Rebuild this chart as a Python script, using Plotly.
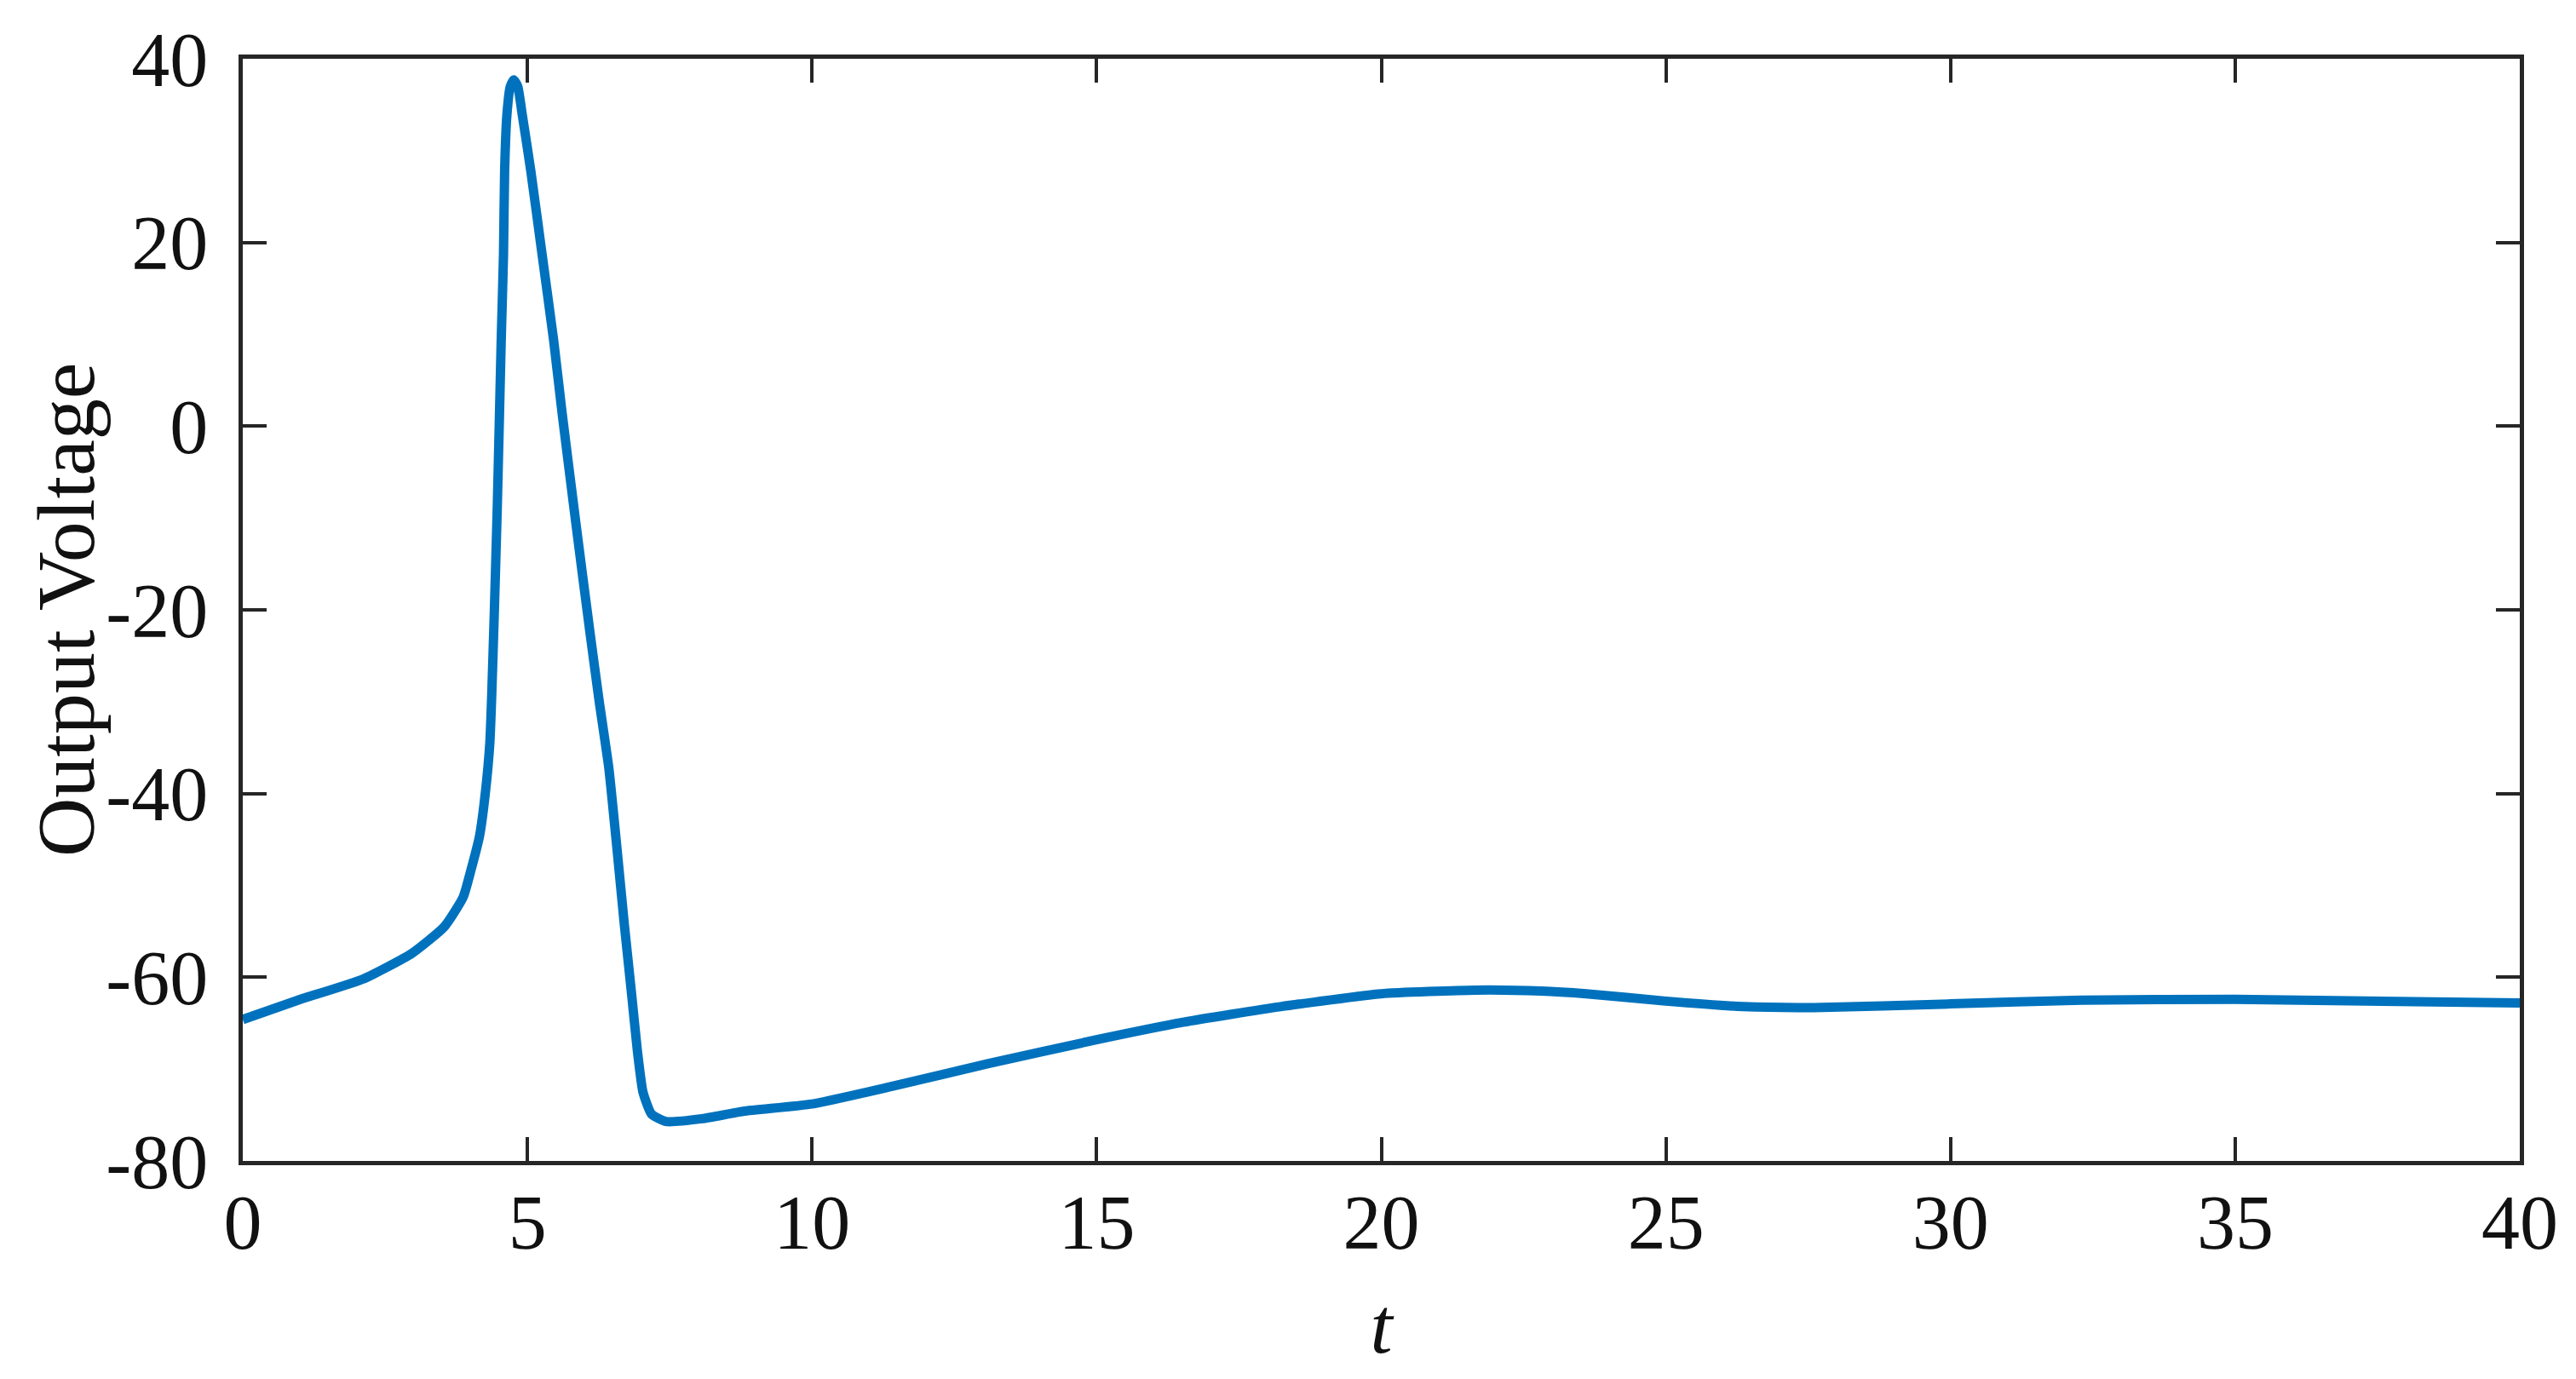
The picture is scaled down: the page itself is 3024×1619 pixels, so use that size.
import plotly.graph_objects as go

# values
t = [0, 0.97, 2.11, 2.97, 3.54, 3.87, 4.01, 4.16, 4.26, 4.34, 4.37, 4.42, 4.47, 4.51,
     4.54, 4.58, 4.60, 4.64, 4.70, 4.76, 4.83, 4.91, 5.06, 5.26, 5.46, 5.61, 5.85, 6.1,
     6.26, 6.43, 6.58, 6.70, 6.83, 6.93, 7.03, 7.18, 7.43, 8.07, 8.79, 10, 11.39, 13.1,
     15, 16.52, 18.23, 20, 21.65, 22.8, 23.6, 25, 26.36, 27.6, 30, 32.3, 35, 37.3, 40]
voltage = [-64.6, -62.5, -60.2, -57.4, -54.5, -51.3, -48.3, -44.6, -40, -34.5, -29.9,
           -20, -9, 1.4, 9.4, 18.6, 27.8, 33.9, 37.0, 37.7, 37.0, 33.9, 27.8, 18.6, 9.4,
           1.4, -10.5, -22.5, -29.9, -37.2, -46.4, -54.1, -61.8, -67.9, -72.5, -74.9,
           -75.7, -75.4, -74.6, -73.8, -71.9, -69.4, -66.8, -64.9, -63.2, -61.8, -61.4,
           -61.5, -61.8, -62.6, -63.2, -63.3, -62.9, -62.5, -62.4, -62.6, -62.8]

x_ticks = [0, 5, 10, 15, 20, 25, 30, 35, 40]
y_ticks = [-80, -60, -40, -20, 0, 20, 40]
y_labels = ["-80", "-60", "-40", "-20", "0", "20", "40"]  # plain hyphen like matlab

axis_col = "#262626"
txt_col = "#111111"
serif = "Liberation Serif, Times New Roman, serif"

fig = go.Figure()
fig.add_trace(go.Scatter(x=t, y=voltage, mode="lines",
                         line=dict(color="#0072BD", width=11, shape="spline", smoothing=0.5)))

axis_common = dict(showline=True, linecolor=axis_col, linewidth=4.5, mirror="ticks",
                   ticks="inside", ticklen=28, tickwidth=4, tickcolor=axis_col,
                   showgrid=False, zeroline=False,
                   tickfont=dict(family=serif, size=90, color=txt_col))

fig.update_xaxes(range=[0, 40], tickvals=x_ticks, ticklabelstandoff=-10,
                 title=dict(text="<i>t</i>", font=dict(family=serif, size=94, color=txt_col),
                            standoff=40),
                 **axis_common)
fig.update_yaxes(range=[-80, 40], tickvals=y_ticks, ticktext=y_labels, ticklabelstandoff=18,
                 **axis_common)

# y title placed by hand, it sits closer to the labels than plotly's standoff allows
fig.add_annotation(text="Output Voltage", xref="paper", yref="paper", x=-0.0778, y=0.5,
                   xanchor="center", yanchor="middle", textangle=-90, showarrow=False,
                   font=dict(family=serif, size=96, color=txt_col))

fig.update_layout(width=3024, height=1619, showlegend=False,
                  plot_bgcolor="white", paper_bgcolor="white",
                  margin=dict(l=277, r=74, t=54, b=264))
fig.write_html("out.html")
